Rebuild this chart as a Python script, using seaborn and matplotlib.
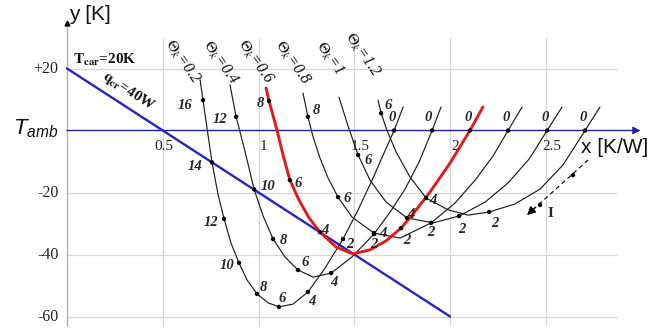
import matplotlib
matplotlib.use("Agg")
import matplotlib.pyplot as plt
import seaborn as sns

sns.set_theme(style="white")
plt.rcParams["font.family"] = ["Liberation Serif", "DejaVu Serif"]
plt.rcParams["mathtext.fontset"] = "custom"
plt.rcParams["mathtext.it"] = "Liberation Sans:italic"
plt.rcParams["mathtext.rm"] = "Liberation Sans"

# ---- data -------------------------------------------------------------
# Curves y(x) for each Theta_k; current I marked at some points (None = no mark)
x_02 = [0.695, 0.710, 0.731, 0.757, 0.789, 0.820, 0.856, 0.898, 0.940, 0.992, 1.050,
        1.107, 1.180, 1.258, 1.347, 1.441, 1.520, 1.593, 1.655, 1.708, 1.755]
y_02 = [16.3, 9.8, 0.8, -10.3, -20.8, -28.5, -36.3, -42.7, -48.2, -52.7, -55.6,
        -56.9, -56.0, -52.1, -44.4, -35.0, -25.6, -16.0, -7.3, 0.0, 7.6]
i_02 = [None, 16, None, 14, None, 12, None, 10, None, 8, None,
        6, None, 4, None, 2, None, None, None, 0, None]

x_04 = [0.851, 0.883, 0.930, 0.977, 1.024, 1.076, 1.138, 1.206, 1.285, 1.379,
        1.488, 1.603, 1.687, 1.765, 1.838, 1.906, 1.953]
y_04 = [14.7, 4.4, -6.9, -19.0, -27.6, -35.0, -40.8, -45.0, -47.3, -46.0,
        -40.8, -33.4, -26.3, -18.9, -10.2, 0.0, 7.6]
i_04 = [None, 12, None, 10, None, 8, None, 6, None, 4,
        None, 2, None, None, None, 0, None]

x_06 = [1.039, 1.055, 1.097, 1.128, 1.164, 1.211, 1.264, 1.321, 1.405, 1.493,
        1.582, 1.666, 1.744, 1.802, 1.896, 2.000, 2.104, 2.172]
y_06 = [13.7, 9.5, 0.0, -7.9, -16.0, -22.4, -28.2, -32.8, -37.6, -39.8,
        -38.5, -35.6, -31.5, -27.3, -19.8, -10.5, 0.0, 7.6]
i_06 = [None, 8, None, None, 6, None, None, 4, None, None,
        None, None, 2, None, None, None, 0, None]

x_08 = [1.232, 1.258, 1.285, 1.321, 1.363, 1.415, 1.488, 1.603, 1.739, 1.901,
        2.026, 2.131, 2.225, 2.303, 2.376]
y_08 = [12.1, 4.4, -2.1, -8.9, -15.3, -21.5, -27.9, -33.1, -34.7, -29.8,
        -23.4, -16.0, -8.2, 0.0, 7.6]
i_08 = [None, 8, None, None, None, 6, None, 4, None, 2,
        None, None, None, 0, None]

x_10 = [1.420, 1.467, 1.520, 1.582, 1.666, 1.775, 1.911, 2.047, 2.183, 2.303,
        2.413, 2.507, 2.585]
y_10 = [10.8, 1.5, -7.9, -16.0, -23.1, -28.2, -29.8, -27.6, -23.1, -16.9,
        -9.2, 0.0, 7.6]
i_10 = [None, None, 6, None, None, 4, None, 2, None, None,
        None, 0, None]

x_12 = [1.624, 1.640, 1.671, 1.718, 1.791, 1.875, 1.990, 2.094, 2.204, 2.339,
        2.470, 2.590, 2.705, 2.783]
y_12 = [9.8, 5.6, 0.0, -6.9, -15.0, -21.8, -25.6, -27.3, -26.3, -23.7,
        -18.9, -11.1, 0.0, 7.6]
i_12 = [None, 6, None, None, None, 4, None, None, 2, None,
        None, None, 0, None]

theta_labels = ["0.2", "0.4", "0.6", "0.8", "1", "1.2"]

# critical heat-load line q_cr = 40 W
qcr_x = [0.0, 2.0]
qcr_y = [20.0, -60.0]

# direction of growing current
dir_x = [2.721, 2.402]
dir_y = [-9.5, -27.3]
dir_dots_x = [2.642, 2.470]
dir_dots_y = [-14.4, -24.0]

x_ticks = [0.5, 1.0, 1.5, 2.0, 2.5]
x_tick_labels = ["0.5", "1", "1.5", "2", "2.5"]
y_ticks = [20, -20, -40, -60]
y_tick_labels = ["+20", "-20", "-40", "-60"]

# ---- figure -----------------------------------------------------------
fig = plt.figure(figsize=(6.72, 3.32), dpi=100)
ax = fig.add_axes([0, 0, 1, 1])
ax.set_xlim(-0.350, 3.159)
ax.set_ylim(-65.0, 42.1)
ax.axis("off")

grid_c = "#d6d6d6"
ax.vlines(x_ticks, -63, 30, color=grid_c, lw=0.9, zorder=0)
ax.hlines(y_ticks, 0, 2.87, color=grid_c, lw=0.9, zorder=0)

# vertical axis with a small arrow tip
ax.vlines([0], -63, 34.5, color="#b0b0b0", lw=1.0, zorder=1)
ax.plot([0], [34.6], marker="^", ms=3.5, color="black", zorder=2)

# horizontal axis at ambient temperature
navy = "#20209a"
ax.annotate("", xy=(2.995, 0), xytext=(0, 0),
            arrowprops=dict(arrowstyle="-|>", color=navy, lw=1.0,
                            mutation_scale=11, shrinkA=0, shrinkB=0), zorder=2)

# q_cr line
sns.lineplot(x=qcr_x, y=qcr_y, sort=False, estimator=None, color="#2424c8",
             lw=1.7, ax=ax, zorder=3)

curves = [
    (x_02, y_02, i_02, "#1e1e1e", 0.85,
     {16: (-18, -5), 14: (-17, -4), 12: (-13, -4), 10: (-12, -3), 8: (6, 6),
      6: (3, 8), 4: (4, -9), 2: (7, -5), 0: (-2, 13)}),
    (x_04, y_04, i_04, "#1e1e1e", 0.85,
     {12: (-16, -3), 10: (14, 3), 8: (10, -1), 6: (7, 8), 4: (3, -9),
      2: (0, -10), 0: (-4, 13)}),
    (x_06, y_06, i_06, "#e41a1a", 2.1,
     {8: (-9, -2), 6: (8, -3), 4: (5, 2), 2: (6, -12), 0: (-2, 13)}),
    (x_08, y_08, i_08, "#1e1e1e", 0.85,
     {8: (8, 6), 6: (9, -1), 4: (9, 0), 2: (0, -10), 0: (-2, 13)}),
    (x_10, y_10, i_10, "#1e1e1e", 0.85,
     {6: (10, -6), 4: (4, 3), 2: (3, -13), 0: (-2, 13)}),
    (x_12, y_12, i_12, "#1e1e1e", 0.85,
     {6: (7, 8), 4: (7, -2), 2: (6, -11), 0: (-2, 13)}),
]

num_font = dict(fontsize=10.5, fontweight="bold", fontstyle="italic",
                family="Liberation Serif", ha="center", va="center")

for xs, ys, marks, col, lw, offs in curves:
    sns.lineplot(x=xs, y=ys, sort=False, estimator=None, color=col, lw=lw,
                 ax=ax, zorder=4 if col != "#e41a1a" else 5)
    mx = [x for x, m in zip(xs, marks) if m is not None]
    my = [y for y, m in zip(ys, marks) if m is not None]
    ml = [m for m in marks if m is not None]
    sns.scatterplot(x=mx, y=my, s=10, color="black", edgecolor="none",
                    ax=ax, zorder=6)
    for x, y, m in zip(mx, my, ml):
        ax.annotate(str(m), (x, y), xytext=offs[m], textcoords="offset pixels",
                    zorder=7, **num_font)

# Theta_k labels above the curves
theta_pos = [(0.601, 22.1), (0.799, 21.8), (0.982, 22.1),
             (1.175, 21.8), (1.373, 23.4), (1.540, 24.4)]
for (tx, ty), v in zip(theta_pos, theta_labels):
    ax.text(tx, ty, r"$\mathit{\Theta_k}$=" + v, rotation=-55,
            rotation_mode="anchor", ha="center", va="center",
            math_fontfamily="stix", fontsize=11.5, fontstyle="italic",
            family="Liberation Serif", color="#111111")

ax.text(0.031, 22.7, r"$\mathbf{T_{car}}$=20K", math_fontfamily="stix",
        fontsize=11, fontweight="bold", family="Liberation Serif",
        ha="left", va="center", color="#111111")
ax.text(0.322, 12.6, r"$\mathbf{q_{cr}}$=40W", math_fontfamily="stix",
        fontsize=11, fontweight="bold", family="Liberation Serif",
        rotation=-33, rotation_mode="anchor",
        ha="center", va="center", color="#111111")

# direction of growing current I
ax.plot([dir_x[0], 2.425], [dir_y[0], -26.0], ls=(0, (4, 3)), color="black", lw=0.8)
ax.annotate("", xy=(dir_x[1], dir_y[1]), xytext=(2.445, -24.8),
            arrowprops=dict(arrowstyle="-|>", color="black", lw=0.8,
                            mutation_scale=13, shrinkA=0, shrinkB=0))
sns.scatterplot(x=dir_dots_x, y=dir_dots_y, s=10, color="black",
                edgecolor="none", ax=ax, zorder=6)
ax.text(2.527, -26.9, "I", fontsize=11, fontweight="bold",
        family="Liberation Serif", ha="center", va="center")

# tick labels
for yv, lab in zip(y_ticks, y_tick_labels):
    ax.text(-0.045, yv, lab, fontsize=11.5, ha="right", va="center",
            family="Liberation Serif", color="#222222")
x_tick_off = [1, 5, 6, 5, 6]
for xv, lab, dx in zip(x_ticks, x_tick_labels, x_tick_off):
    ax.annotate(lab, (xv, 0), xytext=(dx, -16), textcoords="offset pixels",
                fontsize=11, ha="center", va="center",
                family="Liberation Serif", color="#222222")

ax.text(-0.045, 0.5, r"$T_{amb}$", math_fontfamily="custom", fontsize=16,
        ha="right", va="center", color="#111111")
ax.text(2.684, -5.6, "x [K/W]", family="Liberation Sans", fontsize=15,
        ha="left", va="center", color="#111111")
ax.text(0.012, 37.3, "y [K]", family="Liberation Sans", fontsize=15,
        ha="left", va="center", color="#111111")

fig.savefig("out.png", dpi=100)
